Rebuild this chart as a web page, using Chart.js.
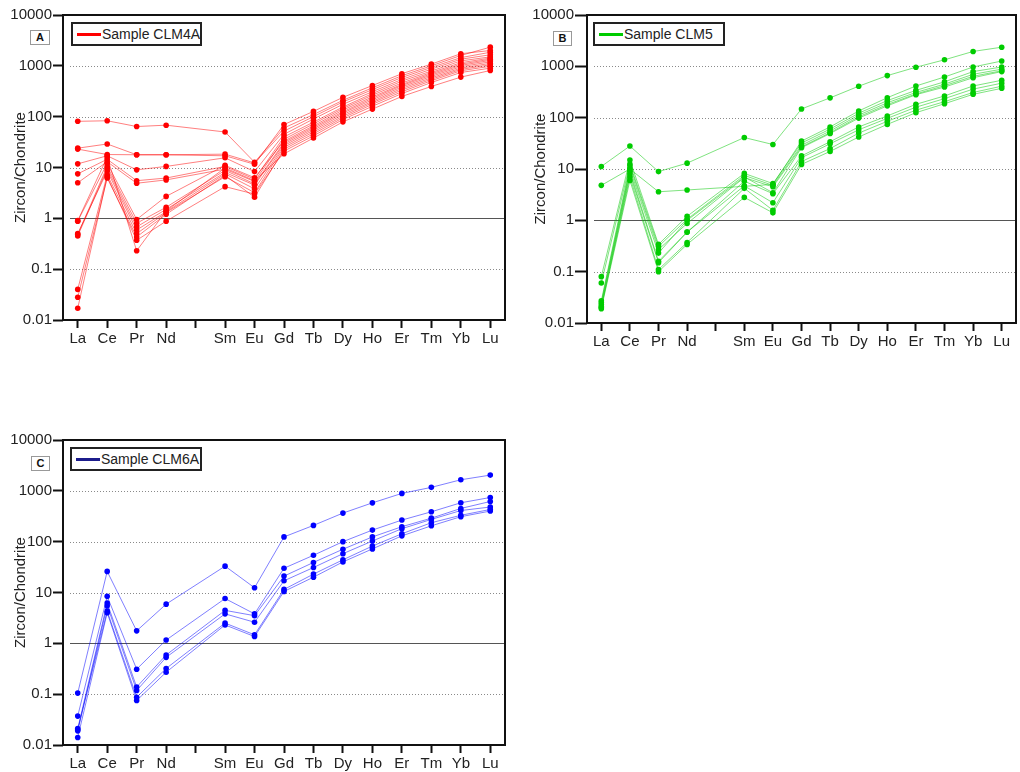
<!DOCTYPE html>
<html>
<head>
<meta charset="utf-8">
<script src="https://cdn.jsdelivr.net/npm/chart.js@4.4.1/dist/chart.umd.min.js"></script>
<style>
body { margin: 0; background: #fff; width: 1020px; height: 772px; position: relative; overflow: hidden; font-family: 'Liberation Sans', Arial, sans-serif; }
canvas { position: absolute; }
.tag { position: absolute; box-sizing: border-box; border: 1px solid #999; font-weight: bold; font-size: 11px; text-align: center; line-height: 12px; color: #111; background: #fff; }
.legend { position: absolute; box-sizing: border-box; border: 2px solid #222; font-size: 14px; color: #222; background: #fff; height: 24px; line-height: 20px; white-space: nowrap; }
.legend i { display: inline-block; vertical-align: middle; width: 24px; height: 3px; margin: 0 1px 0 4px; position: relative; top: -1px; }
</style>
</head>
<body>
<canvas id="chartA" width="515" height="360" style="left:0;top:0"></canvas>
<canvas id="chartB" width="500" height="360" style="left:520px;top:0"></canvas>
<canvas id="chartC" width="515" height="347" style="left:0;top:425px"></canvas>

<div class="tag" style="left:30px;top:30px;width:20px;height:15px">A</div>
<div class="tag" style="left:553px;top:31px;width:19px;height:15px">B</div>
<div class="tag" style="left:31px;top:456px;width:19px;height:15px">C</div>

<div class="legend" style="left:71px;top:22px;width:131px"><i style="background:#ff0000"></i>Sample CLM4A</div>
<div class="legend" style="left:593px;top:22px;width:132px"><i style="background:#00cc00"></i>Sample CLM5</div>
<div class="legend" style="left:70px;top:447px;width:132px"><i style="background:#1c1c8c"></i>Sample CLM6A</div>

<script>
// REE order, Pm slot left empty
const elements = ['La', 'Ce', 'Pr', 'Nd', '', 'Sm', 'Eu', 'Gd', 'Tb', 'Dy', 'Ho', 'Er', 'Tm', 'Yb', 'Lu'];
const yTicks = [0.01, 0.1, 1, 10, 100, 1000, 10000];
const gridDotted = [0.1, 10, 100, 1000];
const gridSolid = [1];

// Sample CLM4A
const clm4a = [
    [81, 83, 64, 68, null, 50, 12.7, 60, 110, 210, 370, 640, 1000, 1600, 2330],
    [24, 29, 17.8, 17.8, null, 17, 11.6, 70, 127, 240, 410, 700, 1080, 1730, 2000],
    [23, 18, 17.8, 17.8, null, 18.3, 12.3, 52, 100, 195, 340, 590, 930, 1450, 1850],
    [11.8, 17, 9, 10.5, null, 15.5, 8.3, 45, 90, 175, 310, 540, 860, 1350, 1650],
    [7.5, 14.5, 5.5, 6.2, null, 10.5, 5.9, 40, 78, 155, 285, 500, 790, 1250, 1500],
    [5.0, 13, 4.9, 5.7, null, 9.3, 5.3, 36, 72, 145, 265, 460, 740, 1150, 1420],
    [0.88, 12, 0.95, 2.7, null, 11, 6.3, 33, 66, 135, 245, 430, 700, 1080, 1350],
    [0.48, 10.5, 0.8, 1.65, null, 8.8, 4.76, 31, 62, 125, 230, 410, 660, 1020, 1280],
    [0.45, 9.5, 0.68, 1.5, null, 8.0, 4.5, 29, 58, 118, 215, 385, 620, 960, 1200],
    [0.5, 8.5, 0.59, 1.35, null, 7.5, 3.8, 27, 54, 110, 200, 360, 580, 900, 1120],
    [0.04, 7.2, 0.5, 1.3, null, 6.6, 3.2, 25, 50, 102, 188, 335, 545, 850, 1050],
    [0.028, 6.2, 0.43, 1.2, null, 7.0, 2.6, 23, 46, 95, 175, 310, 510, 800, 980],
    [0.017, 6.6, 0.37, 0.88, null, 4.2, 3.0, 21, 42, 88, 160, 285, 470, 740, 900],
    [0.9, 16, 0.23, 1.4, null, 9.8, 5.5, 18.6, 38, 79, 141, 250, 393, 600, 810]
];

// Sample CLM5
const clm5 = [
    [11.2, 28, 8.9, 13, null, 41, 30, 148, 243, 410, 660, 960, 1340, 1950, 2360],
    [4.8, 10, 3.6, 3.9, null, 4.6, 5.0, 35, 66, 135, 245, 414, 620, 970, 1270],
    [0.08, 15, 0.34, 1.2, null, 8.2, 5.2, 32, 60, 122, 215, 340, 500, 790, 970],
    [0.06, 12.5, 0.31, 1.05, null, 7.5, 4.8, 29, 55, 112, 195, 310, 450, 700, 880],
    [0.027, 11.5, 0.27, 0.87, null, 6.8, 4.5, 27, 51, 104, 180, 290, 420, 640, 820],
    [0.025, 10, 0.23, 1.0, null, 7.0, 3.45, 26, 49, 98, 170, 280, 395, 600, 790],
    [0.023, 9, 0.16, 0.59, null, 5.8, 3.3, 18, 34, 66, 108, 182, 265, 414, 535],
    [0.021, 8, 0.15, 0.59, null, 4.7, 2.2, 16.6, 31, 58, 97, 160, 235, 360, 470],
    [0.02, 7, 0.11, 0.37, null, 4.2, 1.57, 14, 25, 50, 85, 140, 205, 310, 410],
    [0.019, 6, 0.10, 0.34, null, 2.8, 1.4, 12.3, 22, 42, 74, 125, 187, 285, 373]
];

// Sample CLM6A
const clm6a = [
    [0.105, 26, 1.76, 5.9, null, 33, 12.4, 124, 209, 365, 580, 890, 1170, 1650, 2040],
    [0.037, 8.4, 0.31, 1.16, null, 7.6, 3.8, 30, 54, 100, 169, 266, 387, 582, 740],
    [0.021, 6.2, 0.138, 0.59, null, 4.45, 3.5, 21, 39, 71, 124, 197, 290, 450, 617],
    [0.019, 5.5, 0.118, 0.53, null, 3.8, 2.6, 17, 31, 58, 103, 180, 274, 410, 480],
    [0.02, 4.3, 0.087, 0.32, null, 2.5, 1.47, 11.5, 23, 44, 82, 143, 236, 330, 430],
    [0.014, 4.0, 0.075, 0.27, null, 2.3, 1.36, 10.5, 20, 40, 72, 130, 205, 310, 400]
];

const frame = {
    id: 'frame',
    beforeDatasetsDraw(chart) {
        const { ctx, chartArea: a, scales: { y } } = chart;
        ctx.save();
        ctx.lineWidth = 1;
        ctx.strokeStyle = '#8a8a8a';
        ctx.setLineDash([1, 2]);
        gridDotted.forEach(v => {
            const py = Math.round(y.getPixelForValue(v)) + 0.5;
            ctx.beginPath(); ctx.moveTo(a.left + 7, py); ctx.lineTo(a.right, py); ctx.stroke();
        });
        ctx.setLineDash([]);
        ctx.strokeStyle = '#555';
        gridSolid.forEach(v => {
            const py = Math.round(y.getPixelForValue(v)) + 0.5;
            ctx.beginPath(); ctx.moveTo(a.left + 7, py); ctx.lineTo(a.right, py); ctx.stroke();
        });
        ctx.restore();
    },
    afterDraw(chart) {
        const { ctx, chartArea: a } = chart;
        ctx.save();
        ctx.lineWidth = 2;
        ctx.strokeStyle = '#111';
        ctx.strokeRect(a.left, a.top, a.right - a.left, a.bottom - a.top);
        ctx.restore();
    }
};

function makeChart(id, rows, pointColor, lineColor, box) {
    const ctx = document.getElementById(id).getContext('2d');
    return new Chart(ctx, {
        type: 'line',
        data: {
            labels: elements,
            datasets: rows.map(r => ({
                data: r,
                borderColor: lineColor,
                borderWidth: 1,
                pointRadius: 2.8,
                pointBorderWidth: 0,
                pointBackgroundColor: pointColor,
                spanGaps: true,
                tension: 0
            }))
        },
        plugins: [frame],
        options: {
            responsive: false,
            animation: false,
            layout: { padding: { top: 15, right: box.right, left: 0, bottom: 0 } },
            plugins: { legend: { display: false }, tooltip: { enabled: false } },
            scales: {
                x: {
                    type: 'category',
                    offset: true,
                    border: { display: false },
                    grid: { offset: false, drawOnChartArea: false, tickLength: 8, tickWidth: 2, tickColor: '#111' },
                    ticks: { autoSkip: false, maxRotation: 0, padding: 2, color: '#222', font: { family: 'Liberation Sans', size: 15 } },
                    afterFit: s => { s.height = box.xh; }
                },
                y: {
                    type: 'logarithmic',
                    min: 0.01,
                    max: 10000,
                    border: { display: false },
                    grid: { drawOnChartArea: false, tickLength: box.tick, tickWidth: 2, tickColor: '#111' },
                    afterBuildTicks: s => { s.ticks = yTicks.map(v => ({ value: v })); },
                    ticks: { padding: 1, color: '#222', font: { family: 'Liberation Sans', size: 15 }, callback: v => String(v) },
                    title: { display: true, text: 'Zircon/Chondrite', color: '#222', padding: { top: box.tp, bottom: 0 }, font: { family: 'Liberation Sans', size: 15 } },
                    afterFit: s => { s.width = box.yw; }
                }
            }
        }
    });
}

makeChart('chartA', clm4a, '#ff0000', 'rgba(255,0,0,0.5)', { right: 10, xh: 40, yw: 63, tick: 10, tp: 12 });
makeChart('chartB', clm5, '#00cc00', 'rgba(0,200,0,0.5)', { right: 2, xh: 37, yw: 67, tick: 12, tp: 12 });
makeChart('chartC', clm6a, '#0000ff', 'rgba(0,0,255,0.5)', { right: 10, xh: 27, yw: 63, tick: 10, tp: 12 });
</script>
</body>
</html>
